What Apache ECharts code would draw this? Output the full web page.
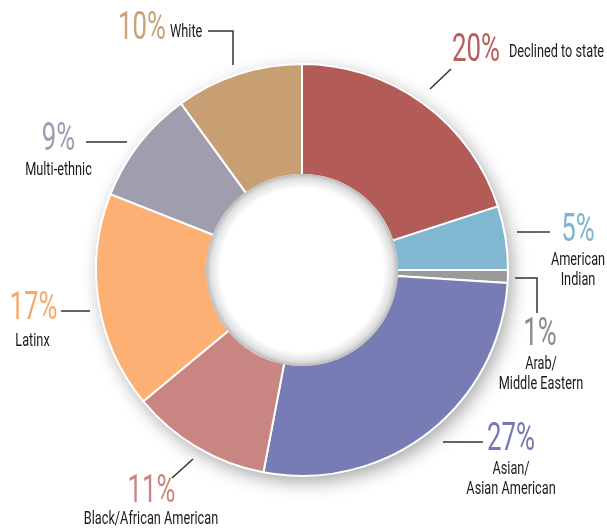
<!DOCTYPE html>
<html><head><meta charset="utf-8">
<script src="https://cdn.jsdelivr.net/npm/echarts@6/dist/echarts.min.js"></script>
<style>html,body{margin:0;padding:0;background:#fff}#c{width:607px;height:529px}</style>
</head><body><div id="c"></div>
<script>
// ---- data ----
const categories = ['Declined to state','American Indian','Arab/Middle Eastern','Asian/Asian American','Black/African American','Latinx','Multi-ethnic','White'];
const values = [20, 5, 1, 27, 11, 17, 9, 10];
const nameLines = [['Declined to state'],['American','Indian'],['Arab/','Middle Eastern'],['Asian/','Asian American'],['Black/African American'],['Latinx'],['Multi-ethnic'],['White']];

// ---- styles / layout ----
const sliceColors = ['#b35b57','#82b7d1','#9a9a9a','#777cb5','#c98581','#fdb073','#a09dae','#c89f73'];
const pctColors   = ['#b85e5b','#7db4d0','#8a8a8a','#7478b5','#c98580','#f5a86a','#a09cb0','#c9a27a'];
const CX = 302, CY = 270, R_IN = 95, R_OUT = 206;
const PCT_FONT = 'Roboto';
const NAME_FONT = 'Roboto';
const layout = [
  {p:[452,51.5,'left'],  n:[509,52.5,'left'],   line:[[430,89],[451,69]]},
  {p:[578,231.5,'center'],n:[578,260,'center'], line:[[517,232],[550,232]]},
  {p:[540,335.5,'center'],n:[541,364.5,'center'],line:[[515,278],[537,278],[537,313]]},
  {p:[511,440,'center'], n:[511,469,'center'],  line:[[443,442],[483,442]]},
  {p:[151.5,492,'center'],n:[151,519,'center'], line:[[193,459],[172,478]]},
  {p:[33.5,309,'center'], n:[32.5,341.5,'center'],line:[[61,311],[90,311]]},
  {p:[58.5,140.5,'center'],n:[58.5,170,'center'],line:[[86,142],[127,142]]},
  {p:[166,29,'right'],   n:[170,32,'left'],     line:[[208,31],[233,31],[233,65]]}
];
const PCT_SIZE = 38, PCT_SX = 0.68, NAME_SIZE = 19, NAME_SX = 0.67, LINE_GAP = 20;

const graphics = [{
  type:'circle', z:100, silent:true,
  shape:{cx:CX, cy:CY, r:R_IN+1},
  style:{fill:{type:'radial',x:0.5,y:0.5,r:0.5,colorStops:[
    {offset:0,color:'#ffffff'},{offset:0.85,color:'#ffffff'},{offset:0.95,color:'#e0e0e0'},{offset:1,color:'#b8b8b8'}]}}
}];
layout.forEach((L,i)=>{
  graphics.push({type:'polyline', z:100, silent:true, shape:{points:L.line},
    style:{stroke:'#333', lineWidth:1.5, fill:null}});
  graphics.push({type:'text', z:100, silent:true, x:L.p[0], y:L.p[1], scaleX:PCT_SX,
    style:{text: values[i] + '%', fill:pctColors[i], fontSize:PCT_SIZE, fontFamily:PCT_FONT, fontWeight:400,
      align:L.p[2], verticalAlign:'middle'}});
  nameLines[i].forEach((t,k)=>{
    graphics.push({type:'text', z:100, silent:true, x:L.n[0], y:L.n[1] + k*LINE_GAP, scaleX:NAME_SX,
      style:{text:t, fill:'#1a1a1a', fontSize:NAME_SIZE, fontFamily:NAME_FONT,
        align:L.n[2], verticalAlign:'middle'}});
  });
});

const chart = echarts.init(document.getElementById('c'));
chart.setOption({
  animation:false,
  backgroundColor:'#fff',
  series:[
    {type:'pie', z:1, silent:true, center:[CX,CY], radius:[R_IN,R_OUT],
     data:[{value:1}], label:{show:false}, labelLine:{show:false},
     itemStyle:{color:'#fff', shadowBlur:18, shadowOffsetX:4, shadowOffsetY:6, shadowColor:'rgba(0,0,0,0.35)'},
     emphasis:{disabled:true}},
    {type:'pie', z:2, silent:true, center:[CX,CY], radius:[R_IN,R_OUT], startAngle:90, clockwise:true,
     data: categories.map((c,i)=>({name:c, value:values[i], itemStyle:{color:sliceColors[i]}})),
     itemStyle:{borderColor:'#fff', borderWidth:2},
     label:{show:false}, labelLine:{show:false}, emphasis:{disabled:true}}
  ],
  graphic: graphics
});
</script></body></html>
